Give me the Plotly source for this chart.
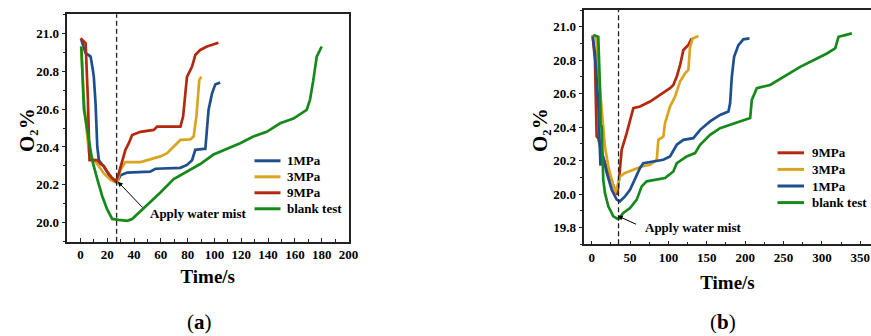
import plotly.graph_objects as go

# ---------------- data: panel (a) ----------------
a_1mpa_t = [0.7, 1.4, 3.9, 5.1, 7.6, 9.3, 10.0, 11.3, 12.6, 13.8, 17.5, 22.5, 27.5, 29.9, 34.9, 52.0, 56.0, 74.6, 79.5, 83.3, 85.7, 91.9, 93.2, 95.6, 98.1, 100.6, 104.3]
a_1mpa_y = [20.965, 20.947, 20.895, 20.89, 20.877, 20.806, 20.77, 20.63, 20.40, 20.33, 20.296, 20.24, 20.217, 20.25, 20.265, 20.27, 20.285, 20.29, 20.305, 20.33, 20.385, 20.39, 20.39, 20.595, 20.68, 20.73, 20.74]

a_3mpa_t = [0.5, 2.6, 6.3, 9.0, 12.6, 17.5, 22.5, 27.5, 29.9, 33.6, 44.8, 52.2, 59.7, 64.7, 69.6, 74.6, 82.0, 84.5, 86.5, 87.4, 88.7, 90.2]
a_3mpa_y = [20.93, 20.65, 20.37, 20.34, 20.31, 20.26, 20.226, 20.21, 20.28, 20.32, 20.32, 20.335, 20.35, 20.367, 20.40, 20.437, 20.44, 20.455, 20.56, 20.665, 20.754, 20.77]

a_9mpa_t = [0.1, 2.6, 3.9, 5.6, 6.8, 12.6, 15.0, 17.5, 20.0, 23.7, 26.5, 28.6, 31.2, 33.6, 36.1, 38.6, 44.8, 54.7, 57.2, 74.6, 76.6, 79.5, 83.3, 85.7, 89.4, 94.4, 103.0]
a_9mpa_y = [20.974, 20.956, 20.947, 20.65, 20.33, 20.33, 20.31, 20.30, 20.27, 20.235, 20.217, 20.26, 20.33, 20.385, 20.42, 20.463, 20.48, 20.49, 20.507, 20.507, 20.56, 20.77, 20.824, 20.885, 20.912, 20.93, 20.95]

a_blank_t = [0.7, 2.6, 5.1, 8.8, 12.6, 16.3, 20.0, 23.7, 28.7, 34.9, 38.6, 44.8, 52.2, 59.7, 69.6, 79.5, 89.4, 99.3, 109.3, 119.2, 129.0, 139.0, 149.0, 158.9, 168.8, 171.3, 173.7, 176.3, 180.0]
a_blank_y = [20.93, 20.60, 20.49, 20.33, 20.23, 20.14, 20.07, 20.02, 20.015, 20.01, 20.02, 20.06, 20.11, 20.16, 20.23, 20.27, 20.31, 20.36, 20.39, 20.42, 20.455, 20.48, 20.525, 20.55, 20.595, 20.65, 20.75, 20.877, 20.93]

# ---------------- data: panel (b) ----------------
b_9mpa_t = [1.3, 4.3, 6.5, 8.6, 13.0, 17.3, 23.9, 30.4, 33.4, 36.0, 39.1, 45.6, 50.0, 54.3, 63.0, 76.1, 89.1, 102.1, 106.4, 110.9, 115.2, 119.5, 126.0, 130.4]
b_9mpa_y = [20.95, 20.80, 20.344, 20.334, 20.245, 20.185, 20.105, 20.026, 19.996, 20.105, 20.265, 20.364, 20.444, 20.513, 20.523, 20.553, 20.593, 20.633, 20.652, 20.702, 20.77, 20.861, 20.891, 20.93]

b_3mpa_t = [1.3, 6.0, 8.6, 13.0, 17.3, 21.7, 26.1, 30.4, 33.4, 36.9, 43.4, 54.3, 65.2, 76.1, 84.8, 86.9, 93.4, 95.6, 102.1, 108.7, 115.2, 121.7, 126.0, 128.2, 131.7, 139.1]
b_3mpa_y = [20.95, 20.94, 20.742, 20.484, 20.284, 20.165, 20.086, 20.006, 20.046, 20.105, 20.126, 20.145, 20.165, 20.175, 20.205, 20.324, 20.344, 20.424, 20.523, 20.583, 20.672, 20.722, 20.742, 20.88, 20.93, 20.945]

b_1mpa_t = [1.3, 4.3, 8.6, 10.8, 11.5, 13.0, 19.6, 26.1, 32.6, 36.9, 43.4, 50.0, 56.5, 63.0, 67.3, 80.3, 93.4, 102.1, 110.9, 119.5, 132.5, 141.3, 154.3, 167.3, 178.2, 180.4, 182.6, 185.6, 191.2, 197.7, 205.6]
b_1mpa_y = [20.94, 20.84, 20.543, 20.30, 20.17, 20.26, 20.126, 20.026, 19.967, 19.957, 19.986, 20.026, 20.086, 20.156, 20.185, 20.195, 20.205, 20.225, 20.295, 20.324, 20.334, 20.384, 20.434, 20.473, 20.493, 20.543, 20.70, 20.82, 20.89, 20.925, 20.93]

b_blank_t = [2.1, 8.6, 10.8, 11.7, 13.0, 15.1, 17.3, 21.7, 28.2, 34.7, 41.2, 50.0, 58.7, 65.2, 71.7, 84.8, 95.6, 106.4, 110.9, 123.9, 134.7, 141.3, 154.3, 167.3, 180.4, 197.7, 206.5, 208.7, 215.2, 232.6, 243.4, 254.3, 271.7, 289.0, 306.5, 317.3, 321.7, 330.4, 339.1]
b_blank_y = [20.95, 20.94, 20.64, 20.40, 20.41, 20.086, 20.006, 19.927, 19.867, 19.85, 19.887, 19.917, 19.967, 20.046, 20.076, 20.086, 20.096, 20.135, 20.185, 20.225, 20.245, 20.295, 20.354, 20.394, 20.414, 20.444, 20.454, 20.563, 20.633, 20.652, 20.682, 20.712, 20.76, 20.80, 20.84, 20.87, 20.94, 20.95, 20.96]

mist_time_a = 27
mist_time_b = 35
mist_label = "Apply water mist"
x_title = "Time/s"
y_title = "O\u2082%"
panel_labels = ["(<b>a</b>)", "(<b>b</b>)"]

series_a = [("1MPa", a_1mpa_t, a_1mpa_y), ("3MPa", a_3mpa_t, a_3mpa_y),
            ("9MPa", a_9mpa_t, a_9mpa_y), ("blank test", a_blank_t, a_blank_y)]
series_b = [("9MPa", b_9mpa_t, b_9mpa_y), ("3MPa", b_3mpa_t, b_3mpa_y),
            ("1MPa", b_1mpa_t, b_1mpa_y), ("blank test", b_blank_t, b_blank_y)]

colors = {"1MPa": "#1f4f8f", "3MPa": "#d9a521", "9MPa": "#b3290e", "blank test": "#16891a"}

FONT = "Liberation Serif"
W, H = 871, 336

fig = go.Figure()
for name, t, y in series_a:
    fig.add_trace(go.Scatter(x=t, y=y, mode="lines", name=name, xaxis="x", yaxis="y",
                             line=dict(color=colors[name], width=2.7), showlegend=False))
for name, t, y in series_b:
    fig.add_trace(go.Scatter(x=t, y=y, mode="lines", name=name, xaxis="x2", yaxis="y2",
                             line=dict(color=colors[name], width=2.7), showlegend=False))

tickfont = dict(family=FONT, size=13, color="black", weight="bold")
titlefont = dict(family=FONT, size=19, color="black", weight="bold")

def xax(domain, rng, dtick, anchor, minor_dtick, standoff):
    return dict(domain=domain, range=rng, anchor=anchor, dtick=dtick, tick0=0,
                automargin=False,
                showgrid=False, zeroline=False, showline=True, mirror=True,
                linecolor="#222", linewidth=1.6, ticks="inside", ticklen=4,
                tickwidth=1.3, tickcolor="#222", tickfont=tickfont,
                minor=dict(dtick=minor_dtick, ticks="inside", ticklen=2.5, tickcolor="#222", tickwidth=1.2),
                title=dict(text=x_title, font=titlefont, standoff=standoff))

def yax(domain, rng, anchor):
    return dict(domain=domain, range=rng, anchor=anchor, dtick=0.2, tick0=20.0,
                automargin=False,
                tickformat=".1f", showgrid=False, zeroline=False, showline=True, mirror=True,
                linecolor="#222", linewidth=1.6, ticks="outside", ticklen=3.5,
                tickwidth=1.3, tickcolor="#222", tickfont=tickfont,
                minor=dict(dtick=0.1, ticks="outside", ticklen=2.5, tickcolor="#222", tickwidth=1.2))

def px_x(p):
    return p / W

def px_y(p):
    return 1 - p / H

fig.update_layout(
    width=W, height=H,
    margin=dict(l=0, r=0, t=0, b=0, autoexpand=False),
    paper_bgcolor="white", plot_bgcolor="white",
    font=dict(family=FONT, size=13, color="black"),
    xaxis=xax([px_x(67), px_x(348.5)], [-10, 200], 20, "y", 10, 9),
    yaxis=yax([px_y(241.7), px_y(14.3)], [19.9, 21.1], "x"),
    xaxis2=xax([px_x(584), 1.0], [-10, 364], 50, "y2", 25, 12),
    yaxis2=yax([px_y(244.3), px_y(10)], [19.7, 21.1], "x2"),
    showlegend=False,
)

# y-axis titles (rotated)
for cx in [27, 540]:
    fig.add_annotation(x=px_x(cx), y=px_y(130), xref="paper", yref="paper", text=y_title,
                       textangle=-90, xanchor="center", yanchor="middle", showarrow=False,
                       font=dict(family=FONT, size=21, color="black", weight="bold"))

# legends drawn as line samples + labels (compact spacing as in the original)
leg_font = dict(family=FONT, size=13, color="black", weight="bold")
for series, lx0, lx1, tx, y0, step in [(series_a, 254.5, 280.5, 285, 160.8, 16.0),
                                        (series_b, 777.5, 804, 809.5, 152.8, 16.6)]:
    for i, (name, _, _) in enumerate(series):
        yy = y0 + i * step
        fig.add_shape(type="line", xref="paper", yref="paper",
                      x0=px_x(lx0), x1=px_x(lx1), y0=px_y(yy), y1=px_y(yy),
                      line=dict(color=colors[name], width=3))
        fig.add_annotation(x=px_x(tx), y=px_y(yy), xref="paper", yref="paper", text=name,
                           xanchor="left", yanchor="middle", showarrow=False, font=leg_font)

# dashed vertical line at the time water mist is applied
for xref, yref, t in [("x", "y domain", mist_time_a), ("x2", "y2 domain", mist_time_b)]:
    fig.add_shape(type="line", xref=xref, yref=yref, x0=t, x1=t, y0=0, y1=1,
                  line=dict(color="#222", width=1.3, dash="5px,3px"))

ann_font = dict(family=FONT, size=13, color="black", weight="bold")
# panel (a): label with arrow pointing at the moment water mist is applied
fig.add_annotation(x=27.9, y=20.217, ax=50.5, ay=20.05, xref="x", yref="y", axref="x", ayref="y",
                   text=mist_label, xanchor="left", yanchor="middle", font=ann_font,
                   showarrow=True, arrowhead=2, arrowsize=1, arrowwidth=1, arrowcolor="black",
                   startstandoff=8)
# panel (b)
fig.add_annotation(x=33.9, y=19.87, ax=67.3, ay=19.80, xref="x2", yref="y2", axref="x2", ayref="y2",
                   text=mist_label, xanchor="left", yanchor="middle", font=ann_font,
                   showarrow=True, arrowhead=2, arrowsize=1, arrowwidth=1, arrowcolor="black",
                   startstandoff=8)

# panel labels
lab_font = dict(family=FONT, size=21, color="black")
for lab, cx in zip(panel_labels, [199, 723]):
    fig.add_annotation(x=px_x(cx), y=px_y(322), xref="paper", yref="paper", text=lab,
                       xanchor="center", yanchor="middle", showarrow=False, font=lab_font)

fig.write_html("out.html", config={"displayModeBar": False},
               post_script="document.body.style.margin='0px';document.body.style.overflow='hidden';")
